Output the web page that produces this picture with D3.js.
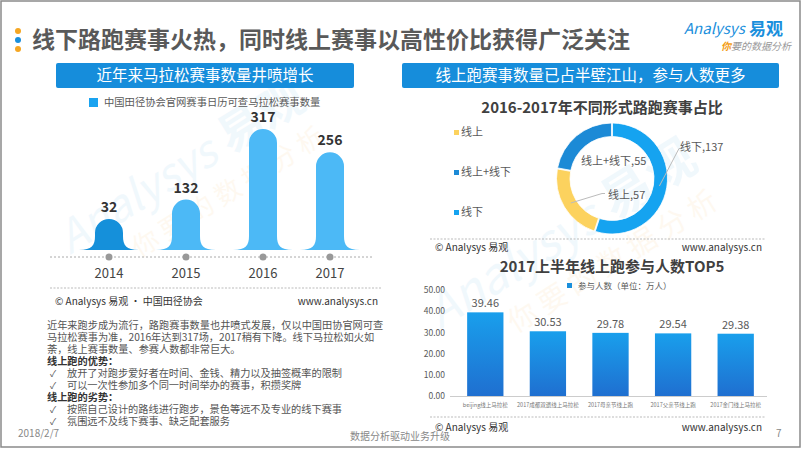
<!DOCTYPE html>
<html><head><meta charset="utf-8">
<script src="https://cdn.jsdelivr.net/npm/d3@7"></script>
<style>body{margin:0;background:#fff}svg{display:block}text{font-family:"Noto Sans CJK SC","Noto Sans",sans-serif}</style>
</head><body><svg id="c" width="802" height="451"></svg>
<script>
// ---- data ----
const marathonYears = ["2014","2015","2016","2017"];
const marathonCounts = [32,132,317,256];
const donutCategories = ["线下","线上","线上+线下"];
const donutValues = [137,57,55];
const legendCategories = ["线上","线上+线下","线下"];
const top5Names = ["beijing线上马拉松","2017成都双遗线上马拉松","2017母亲节线上跑","2017父亲节线上跑","2017金门线上马拉松"];
const top5Values = [39.46,30.53,29.78,29.54,29.38];
const top5Ticks = [0,10,20,30,40,50];
const paragraphLines = [
 "近年来跑步成为流行，路跑赛事数量也井喷式发展，仅以中国田协官网可查",
 "马拉松赛事为准，2016年达到317场，2017稍有下降。线下马拉松如火如",
 "荼，线上赛事数量、参赛人数都非常巨大。"];
const prosTitle = "线上跑的优势：";
const pros = ["放开了对跑步爱好者在时间、金钱、精力以及抽签概率的限制","可以一次性参加多个同一时间举办的赛事，积攒奖牌"];
const consTitle = "线上跑的劣势：";
const cons = ["按照自己设计的路线进行跑步，景色等远不及专业的线下赛事","氛围远不及线下赛事、缺乏配套服务"];

const svg = d3.select("#c");
const grey = "#595959";
svg.append("rect").attr("x",0).attr("y",0).attr("width",802).attr("height",451).attr("fill","#fff");
svg.append("rect").attr("x",1).attr("y",1).attr("width",799).attr("height",446).attr("fill","none").attr("stroke","#8a8a8a").attr("stroke-width",1.5);

// faint watermarks
function watermark(x,y,rot,size){
  const g = svg.append("g").attr("transform",`translate(${x},${y}) rotate(${rot})`).attr("opacity",0.06);
  g.append("text").attr("font-size",size).attr("font-style","italic").attr("fill","#1a8fdc").text("Analysys");
  g.append("text").attr("x",size*4.3).attr("font-size",size*1.05).attr("font-weight","bold").attr("fill","#1a8fdc").text("易观");
  g.append("text").attr("x",size*1.3).attr("y",size*0.9).attr("font-size",size*0.6).attr("fill","#f39c12").text("你 要 的 数 据 分 析");
}
watermark(70,255,-32,44);
watermark(440,330,-32,48);

// title
[["#f5a623",31],["#1a8fdc",40],["#f5a623",49]].forEach(d=>svg.append("circle").attr("cx",18).attr("cy",d[1]).attr("r",3).attr("fill",d[0]));
svg.append("text").attr("x",32).attr("y",48).attr("font-size",23).attr("font-weight","bold").attr("fill",grey)
  .text("线下路跑赛事火热，同时线上赛事以高性价比获得广泛关注");
// logo
svg.append("text").attr("x",684).attr("y",34).attr("font-size",15).attr("font-style","italic").attr("fill","#1a8fdc").text("Analysys");
svg.append("text").attr("x",749).attr("y",35).attr("font-size",17).attr("font-weight","bold").attr("fill","#1a8fdc").text("易观");
const lg = svg.append("text").attr("x",721).attr("y",50).attr("font-size",10).attr("font-style","italic");
lg.append("tspan").attr("fill","#f39c12").attr("font-weight","bold").text("你");
lg.append("tspan").attr("fill","#999").text("要的数据分析");

// panel headers
function header(x,w,txt){
  svg.append("rect").attr("x",x).attr("y",63).attr("width",w).attr("height",25).attr("rx",2).attr("fill","#168ddb");
  svg.append("text").attr("x",x+w/2).attr("y",81).attr("text-anchor","middle").attr("font-size",15.5).attr("fill","#fff").text(txt);
}
header(56,298,"近年来马拉松赛事数量井喷增长");
header(402,377,"线上跑赛事数量已占半壁江山，参与人数更多");

function source(x1,x2,ly,ty,left){
  svg.append("line").attr("x1",x1).attr("x2",x2).attr("y1",ly).attr("y2",ly).attr("stroke","#bbb").attr("stroke-dasharray","2,1.5");
  svg.append("text").attr("x",x1+5).attr("y",ty).attr("font-size",10).attr("fill","#333").text(left);
  svg.append("text").attr("x",x2-3).attr("y",ty).attr("text-anchor","end").attr("font-size",10).attr("fill","#333").text("www.analysys.cn");
}

// ---- left chart: bell bars ----
svg.append("rect").attr("x",89).attr("y",98).attr("width",9).attr("height",9).attr("fill","#1aa3f0");
svg.append("text").attr("x",104).attr("y",106).attr("font-size",10.3).attr("fill",grey).text("中国田径协会官网赛事日历可查马拉松赛事数量");
const xPos = d3.scaleOrdinal().domain(marathonYears).range([109,186,263,330]);
const hL = d3.scaleLinear().domain([0,317]).range([0,121]);
const baseY = 250;
function bell(cx,top){
  const w=14, W=30, fh=14;
  const capY = Math.min(top+w, baseY-fh);
  return `M${cx-W},${baseY} C${cx-w-3},${baseY} ${cx-w},${baseY-5} ${cx-w},${baseY-fh} L${cx-w},${capY} A${w},${w} 0 0 1 ${cx+w},${capY} L${cx+w},${baseY-fh} C${cx+w},${baseY-5} ${cx+w+3},${baseY} ${cx+W},${baseY} Z`;
}
svg.append("line").attr("x1",50).attr("x2",373).attr("y1",257).attr("y2",257).attr("stroke","#aaa").attr("stroke-dasharray","2,2");
marathonYears.forEach((y,i)=>{
  const cx = xPos(y);
  const top = baseY - Math.max(hL(marathonCounts[i]),31);
  svg.append("path").attr("d",bell(cx,top)).attr("fill", i===0?"#1590da":"#4cb9f6");
  svg.append("text").attr("x",cx).attr("y",top-7).attr("text-anchor","middle").attr("font-size",14).attr("font-weight","bold").attr("fill","#333").text(marathonCounts[i]);
  svg.append("circle").attr("cx",cx).attr("cy",257).attr("r",3.5).attr("fill","#999");
  svg.append("text").attr("x",cx).attr("y",278).attr("text-anchor","middle").attr("font-size",13).attr("fill","#444").text(y);
});
source(50,381,288,305,"© Analysys 易观 · 中国田径协会");

// ---- paragraph ----
let ly = 329;
const para = svg.append("g").attr("font-size",10.2).attr("fill","#555");
paragraphLines.forEach(t=>{para.append("text").attr("x",47).attr("y",ly).text(t); ly+=12;});
para.append("text").attr("x",47).attr("y",ly).attr("font-weight","bold").attr("fill","#333").text(prosTitle); ly+=12;
pros.forEach(t=>{para.append("text").attr("x",50).attr("y",ly).attr("font-size",9).text("✓");para.append("text").attr("x",67).attr("y",ly).text(t); ly+=12;});
para.append("text").attr("x",47).attr("y",ly).attr("font-weight","bold").attr("fill","#333").text(consTitle); ly+=12;
cons.forEach(t=>{para.append("text").attr("x",50).attr("y",ly).attr("font-size",9).text("✓");para.append("text").attr("x",67).attr("y",ly).text(t); ly+=12;});

// footer
svg.append("text").attr("x",18).attr("y",437).attr("font-size",10).attr("fill","#888").text("2018/2/7");
svg.append("text").attr("x",400).attr("y",440).attr("text-anchor","middle").attr("font-size",10).attr("fill","#888").text("数据分析驱动业务升级");
svg.append("text").attr("x",776).attr("y",437).attr("font-size",10).attr("fill","#888").text("7");

// ---- donut ----
svg.append("text").attr("x",602).attr("y",113).attr("text-anchor","middle").attr("font-size",15).attr("font-weight","bold").attr("fill","#404040").text("2016-2017年不同形式路跑赛事占比");
const donutColors = d3.scaleOrdinal().domain(["线上","线上+线下","线下"]).range(["#fcd25e","#1c8ad6","#15a3f0"]);
const pie = d3.pie().sort(null).value(d=>d.v);
const arcs = pie(donutCategories.map((c,i)=>({c,v:donutValues[i]})));
const arc = d3.arc().innerRadius(42).outerRadius(55.5).padAngle(0.015);
const dg = svg.append("g").attr("transform","translate(612,178.5)");
dg.selectAll("path").data(arcs).join("path").attr("d",arc).attr("fill",d=>donutColors(d.data.c)).attr("stroke","#fff").attr("stroke-width",0.8);
const mid = d3.arc().innerRadius(48).outerRadius(48);
const p0 = mid.centroid(arcs[0]);
dg.append("polyline").attr("points",`${p0[0]},${p0[1]} ${67},${-30} ${70},${-30}`).attr("fill","none").attr("stroke","#bbb");
svg.append("text").attr("x",680).attr("y",151).attr("font-size",11).attr("fill",grey).text("线下,137");
const p1 = mid.centroid(arcs[1]);
dg.append("polyline").attr("points",`${p1[0]},${p1[1]} ${-10},${15} ${-7},${15}`).attr("fill","none").attr("stroke","#bbb");
svg.append("text").attr("x",608).attr("y",199).attr("font-size",11).attr("fill",grey).text("线上,57");
svg.append("text").attr("x",581).attr("y",165).attr("font-size",11).attr("fill",grey).text("线上+线下,55");
legendCategories.forEach((c,i)=>{
  svg.append("rect").attr("x",454).attr("y",130+i*40).attr("width",5).attr("height",5).attr("fill",donutColors(c));
  svg.append("text").attr("x",461).attr("y",136+i*40).attr("font-size",11).attr("fill",grey).text(c);
});
source(430,765,239,251,"© Analysys 易观");

// ---- top5 bar chart ----
svg.append("text").attr("x",612).attr("y",272).attr("text-anchor","middle").attr("font-size",15).attr("font-weight","bold").attr("fill","#404040").text("2017上半年线上跑参与人数TOP5");
svg.append("rect").attr("x",567).attr("y",283).attr("width",5).attr("height",5).attr("fill","#1a8fdc");
svg.append("text").attr("x",578).attr("y",289).attr("font-size",8.5).attr("fill",grey).text("参与人数（单位：万人）");
const defs = svg.append("defs");
const gr = defs.append("linearGradient").attr("id","bg").attr("x1",0).attr("x2",0).attr("y1",0).attr("y2",1);
gr.append("stop").attr("offset","0%").attr("stop-color","#199fec");
gr.append("stop").attr("offset","100%").attr("stop-color","#1f6fd0");
const xB = d3.scaleBand().domain(top5Names).range([454,767]).paddingInner(0.42).paddingOuter(0.21);
const yB = d3.scaleLinear().domain([0,50]).range([396,290]);
const yAx = svg.append("g").attr("transform","translate(450,0)").call(d3.axisLeft(yB).tickValues(top5Ticks).tickFormat(d3.format(".2f")).tickSize(0).tickPadding(5));
yAx.select(".domain").remove();
yAx.selectAll("text").attr("font-size",8.5).attr("fill",grey).attr("font-family","'Noto Sans CJK SC',sans-serif");
svg.append("line").attr("x1",450).attr("x2",767).attr("y1",396.5).attr("y2",396.5).attr("stroke","#ccc");
top5Names.forEach((n,i)=>{
  svg.append("rect").attr("x",xB(n)).attr("y",yB(top5Values[i])).attr("width",xB.bandwidth()).attr("height",396-yB(top5Values[i])).attr("fill","url(#bg)");
  svg.append("text").attr("x",xB(n)+xB.bandwidth()/2).attr("y",yB(top5Values[i])-5).attr("text-anchor","middle").attr("font-size",11).attr("fill",grey).text(top5Values[i].toFixed(2));
  svg.append("text").attr("x",xB(n)+xB.bandwidth()/2).attr("y",407).attr("text-anchor","middle").attr("font-size",5.5).attr("fill","#777").text(n);
});
source(430,765,417,431,"© Analysys 易观");
</script></body></html>
